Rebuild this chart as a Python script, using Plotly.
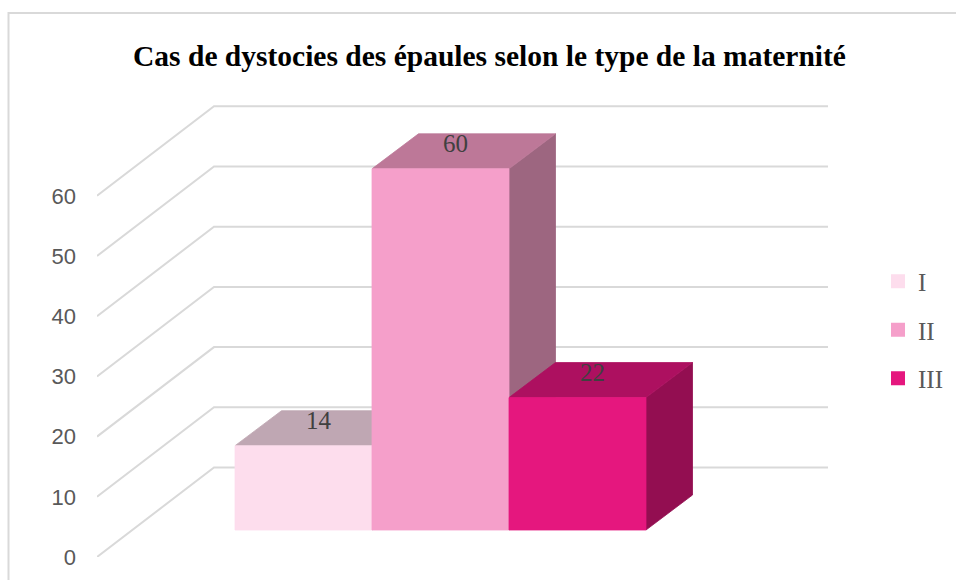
import plotly.graph_objects as go

# ---- data ----
categories = ["I", "II", "III"]
values = [14, 60, 22]
y_ticks = [0, 10, 20, 30, 40, 50, 60]
title_text = "Cas de dystocies des épaules selon le type de la maternité"

# ---- styles ----
front_colors = ["#FDDDED", "#F59FCA", "#E5177E"]
top_colors = ["#BFA7B3", "#BD7898", "#AD1060"]
side_colors = ["#9E8593", "#9D6680", "#930E51"]
grid_color = "#D9D9D9"

# ---- geometry (pixel scales converted to axis units) ----
W, H = 956, 580
ML, MR, MT, MB = 97, 128, 100, 23
PX_X = 137.0          # pixels per category unit
PX_Y = 6.02           # pixels per value unit
plot_w = W - ML - MR
plot_h = H - MT - MB
x0 = -(267 - ML) / PX_X
x1 = x0 + plot_w / PX_X
y_top = plot_h / PX_Y

# oblique depth offsets
WALL_DX, WALL_DY = 117 / PX_X, 89.5 / PX_Y      # back wall
FX, FY = 36.5 / PX_X, 27 / PX_Y                 # bar front plane
BX, BY = FX + 46.5 / PX_X, FY + 35 / PX_Y       # bar back plane

fig = go.Figure()

# gridlines: side wall diagonals + back wall horizontals
for v in y_ticks:
    fig.add_trace(go.Scatter(
        x=[x0, x0 + WALL_DX, x1], y=[v, v + WALL_DY, v + WALL_DY],
        mode="lines", line=dict(color=grid_color, width=2),
        hoverinfo="skip", showlegend=False, cliponaxis=False))

# bars (left to right so later bars hide earlier side faces)
for i, (cat, v) in enumerate(zip(categories, values)):
    xl, xr = i - 0.5, i + 0.5
    front_x = [xl + FX, xr + FX, xr + FX, xl + FX, xl + FX]
    front_y = [FY, FY, v + FY, v + FY, FY]
    top_x = [xl + FX, xr + FX, xr + BX, xl + BX, xl + FX]
    top_y = [v + FY, v + FY, v + BY, v + BY, v + FY]
    side_x = [xr + FX, xr + BX, xr + BX, xr + FX, xr + FX]
    side_y = [FY, BY, v + BY, v + FY, FY]
    for px, py, col in ((side_x, side_y, side_colors[i]),
                        (top_x, top_y, top_colors[i]),
                        (front_x, front_y, front_colors[i])):
        fig.add_trace(go.Scatter(
            x=px, y=py, mode="lines", fill="toself", fillcolor=col,
            line=dict(color=col, width=0.8), hoverinfo="skip",
            showlegend=False, cliponaxis=False))

# data labels on top faces
fig.add_trace(go.Scatter(
    x=[i + FX + 15 / PX_X for i in range(len(values))],
    y=[v + FY + 23 / PX_Y for v in values],
    mode="text", text=[str(v) for v in values],
    textfont=dict(family="Liberation Serif", size=25, color="#404040"),
    hoverinfo="skip", showlegend=False, cliponaxis=False))

# legend entries
for i, cat in enumerate(categories):
    fig.add_trace(go.Scatter(
        x=[None], y=[None], mode="markers", name=cat, legendgroup=cat,
        marker=dict(symbol="square", size=14, color=front_colors[i])))

fig.update_layout(
    width=W, height=H,
    margin=dict(l=ML, r=MR, t=MT, b=MB, autoexpand=False),
    paper_bgcolor="white", plot_bgcolor="white",
    title=dict(text="<b>" + title_text + "</b>", x=489.5 / W, xref="container",
               y=1 - 56 / H, yref="container", xanchor="center", yanchor="middle",
               font=dict(family="Liberation Serif", size=29.5, color="black")),
    xaxis=dict(range=[x0, x1], visible=False, fixedrange=True),
    yaxis=dict(range=[0, y_top], tickvals=y_ticks, ticktext=[str(t) for t in y_ticks],
               showgrid=False, zeroline=False, showline=False, ticks="",
               ticklabelstandoff=20,
               tickfont=dict(family="Liberation Sans", size=22, color="#595959"),
               fixedrange=True),
    legend=dict(x=878 / W, y=1 - 330 / H, xref="container", yref="container",
                xanchor="left", yanchor="middle", tracegroupgap=13, itemwidth=30,
                font=dict(family="Liberation Serif", size=25, color="#595959"),
                bgcolor="rgba(0,0,0,0)"),
    shapes=[dict(type="rect", xref="paper", yref="paper",
                 x0=(8.5 - ML) / plot_w, x1=(1100 - ML) / plot_w,
                 y0=(557 - 700) / plot_h, y1=(557 - 13) / plot_h,
                 line=dict(color=grid_color, width=2), layer="below")],
)

fig.write_html("out.html", config={"displayModeBar": False},
               post_script="document.body.style.margin='0px';")
